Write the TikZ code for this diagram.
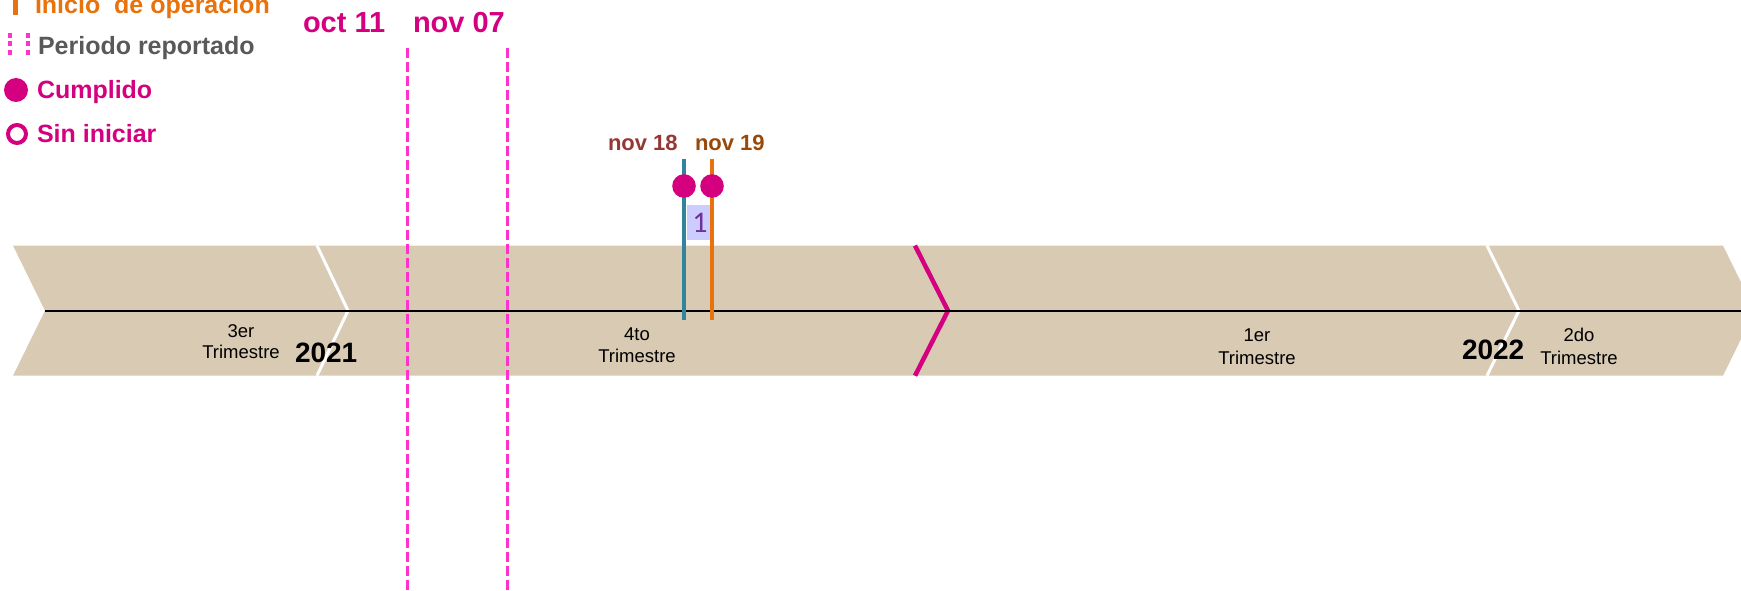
\documentclass[tikz,border=0pt]{standalone}
\usepackage{fontspec}
\setmainfont{Liberation Sans}
\newfontfamily\calib{Carlito}
\definecolor{tan}{HTML}{D8CAB3}
\definecolor{mag}{HTML}{D4007F}
\definecolor{pinkd}{HTML}{FF33CC}
\definecolor{teal}{HTML}{31849B}
\definecolor{orng}{HTML}{E8720C}
\definecolor{redb}{HTML}{953735}
\definecolor{brwn}{HTML}{984807}
\definecolor{grayt}{HTML}{595959}
\definecolor{lav}{HTML}{CCCCFF}
\definecolor{purp}{HTML}{7030A0}
\begin{document}
\begin{tikzpicture}[x=1pt,y=-1pt,
  txt/.style={inner sep=0pt, outer sep=0pt},
  legend/.style={txt, anchor=base west, font=\fontsize{25}{30}\selectfont\bfseries},
  datebig/.style={txt, anchor=base west, font=\fontsize{29}{34}\selectfont\bfseries, text=mag},
  datesm/.style={txt, anchor=base west, font=\fontsize{22}{26}\selectfont\bfseries},
  qlab/.style={txt, anchor=base, font=\fontsize{18.5}{22}\selectfont},
  year/.style={txt, anchor=base west, font=\fontsize{28}{32}\selectfont\bfseries},
  sep/.style={white, line width=3pt},
  period/.style={pinkd, line width=3pt, dash pattern=on 10pt off 4pt},
  event/.style={line width=4pt}
]
\useasboundingbox (0,0) rectangle (1741,591);
\begin{scope}
\clip (0,0) rectangle (1741,591);
% band
\fill[tan] (13,245.6) -- (1723,245.6) -- (1755,310.7) -- (1723,375.7) -- (13,375.7) -- (45,310.7) -- cycle;
\draw[sep] (317,245.6) -- (348,310.7) -- (317,375.7);
\draw[sep] (1487,245.6) -- (1519,310.7) -- (1487,375.7);
\draw[mag, line width=4.5pt] (915,245.6) -- (948,310.7) -- (915,375.7);
\coordinate (lineL) at (45,310.7);
\coordinate (lineR) at (1741,310.7);
\draw[black, line width=2pt] (lineL) -- (lineR);
\end{scope}

% quarter labels
\node[qlab] (q3a) at (241,337) {3er};
\node[qlab] (q3b) at (241,358) {Trimestre};
\node[year] (y21) at (295,362) {2021};
\node[qlab] (q4a) at (637,340) {4to};
\node[qlab] (q4b) at (637,362) {Trimestre};
\node[qlab] (q1a) at (1257,341.5) {1er};
\node[qlab] (q1b) at (1257,364.5) {Trimestre};
\node[year] (y22) at (1462,359) {2022};
\node[qlab] (q2a) at (1579,341) {2do};
\node[qlab] (q2b) at (1579,364.5) {Trimestre};

% reported period
\coordinate (p1t) at (407.5,48);
\coordinate (p1b) at (407.5,591);
\coordinate (p2t) at (507,48);
\coordinate (p2b) at (507,591);
\draw[period] (p1t) -- (p1b);
\draw[period] (p2t) -- (p2b);
\node[datebig] (d1) at (303,33) {oct 11};
\node[datebig] (d2) at (413,33) {nov 07};

% events
\fill[lav] (687,205) rectangle (713,240);
\node[txt, anchor=base, font=\calib\fontsize{30}{34}\selectfont, text=purp] (one) at (700,232) {1};
\coordinate (e1t) at (684,159);
\coordinate (e1b) at (684,320);
\coordinate (e2t) at (712,159);
\coordinate (e2b) at (712,320);
\draw[event, teal] (e1t) -- (e1b);
\draw[event, orng] (e2t) -- (e2b);
\fill[mag] (684,186) circle (11.8);
\fill[mag] (712,186) circle (11.8);
\node[datesm, text=redb] (d3) at (608,151) {nov 18};
\node[datesm, text=brwn] (d4) at (695,151) {nov 19};

% legend
\fill[orng] (13,0) rectangle (17.5,15);
\node[legend, text=orng] (l1) at (35,13.5) {Inicio\ \ de operación};
\draw[pinkd, line width=4pt, dash pattern=on 5pt off 3.5pt] (10,33) -- (10,58);
\draw[pinkd, line width=4pt, dash pattern=on 5pt off 3.5pt] (28,33) -- (28,58);
\node[legend, text=grayt] (l2) at (38,55) {Periodo reportado};
\fill[mag] (16,90) circle (12);
\node[legend, text=mag] (l3) at (37,99) {Cumplido};
\draw[mag, line width=4pt] (17,134) circle (9);
\node[legend, text=mag] (l4) at (37,143) {Sin iniciar};
\end{tikzpicture}
\end{document}
